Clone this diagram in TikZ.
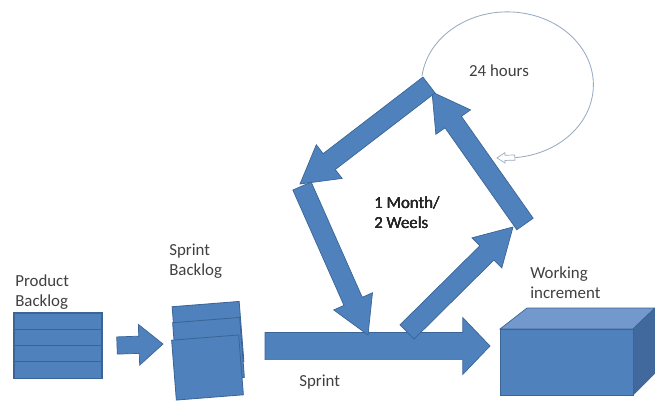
\documentclass[tikz,border=0pt]{standalone}
\usepackage{fontspec}
\setmainfont{Carlito}
\usetikzlibrary{calc}

\definecolor{scrumblue}{HTML}{4F81BD}
\definecolor{scrumline}{HTML}{3A6596}
\definecolor{scrumtop}{HTML}{7399CC}
\definecolor{scrumside}{HTML}{41699E}
\definecolor{loopline}{HTML}{9AAAC0}
\definecolor{textgrey}{HTML}{404040}

\tikzset{
	blockfill/.style={fill=scrumblue, draw=scrumline, line width=0.5pt},
	hollowtip/.style={fill=white, draw=loopline, line width=0.5pt},
	row/.style={rectangle, fill=scrumblue, draw=scrumline, line width=0.8pt,
		minimum width=2.2cm, minimum height=0.41cm, inner sep=0pt, outer sep=0pt},
	sheet/.style={rectangle, fill=scrumblue, draw=scrumline, line width=0.6pt,
		minimum width=1.68cm, minimum height=1.5cm, inner sep=0pt, rotate=4.5},
	lbl/.style={text=textgrey, font=\fontsize{12}{14.5}\selectfont, align=left,
		inner sep=0pt, anchor=west}
}

% block arrow: [style]{tail}{tip}{body width}{head width}{head length}
\newcommand{\blockarrow}[6][blockfill]{%
	\path ($(#3)!#6!(#2)$) coordinate (hb);
	\path[#1] ($(#2)!#4/2!90:(#3)$) -- ($(hb)!#4/2!90:(#3)$) -- ($(hb)!#5/2!90:(#3)$)
		-- (#3) -- ($(hb)!#5/2!-90:(#3)$) -- ($(hb)!#4/2!-90:(#3)$)
		-- ($(#2)!#4/2!-90:(#3)$) -- cycle;
}

\begin{document}
\begin{tikzpicture}[x=0.025cm, y=-0.025cm]
	\useasboundingbox (0,0) rectangle (655,400);

	% product backlog
	\node[lbl] (pbtext) at (15,292) {Product\\Backlog};
	\foreach \i in {0,...,3}
		\node[row] (pb\i) at (58,321.2+16.3*\i) {};

	% sprint backlog
	\node[lbl] (sbtext) at (169,261) {Sprint\\Backlog};
	\node[sheet] (sb1) at (208,334) {};
	\node[sheet] (sb2) at (208.5,350) {};
	\node[sheet] (sb3) at (207.5,367.5) {};

	\coordinate (pbTail) at (117,345.5);
	\coordinate (pbTip) at (163,344);
	\blockarrow{pbTail}{pbTip}{0.43cm}{1.02cm}{0.6cm}

	% sprint
	\coordinate (spTail) at (265,346);
	\coordinate (spTip) at (490,346);
	\blockarrow{spTail}{spTip}{0.68cm}{1.42cm}{0.68cm}
	\node[lbl] (sptext) at (299,382) {Sprint};

	% the loop
	\coordinate (upTail) at (407,332);
	\coordinate (upTip) at (513,227);
	\coordinate (backTail) at (525,224);
	\coordinate (backTip) at (432,92);
	\coordinate (leftTail) at (429,85);
	\coordinate (leftTip) at (300,184);
	\coordinate (downTail) at (302,186);
	\coordinate (downTip) at (368,335);
	\foreach \from/\to in {upTail/upTip, backTail/backTip, leftTail/leftTip, downTail/downTip}
		\blockarrow{\from}{\to}{0.5cm}{1.06cm}{0.92cm}
	\node[lbl, text=black!85] (looptext) at (374,213) {1 Month/\\2 Weels};

	% daily loop
	\coordinate (dayStart) at (422,76);
	\draw[loopline, line width=0.6pt] (dayStart)
		arc[start angle=187, end angle=445, x radius=86, y radius=73] coordinate (dayEnd);
	\coordinate (dayTip) at (497,158);
	\blockarrow[hollowtip]{dayEnd}{dayTip}{0.13cm}{0.26cm}{0.2cm}
	\node[lbl, anchor=center] (daytext) at (499,71) {24 hours};

	% working increment
	\node[lbl] (witext) at (530,283) {Working\\increment};
	\fill[scrumtop, draw=scrumline, line width=0.5pt] (500,329) -- (527,308) -- (655,308) -- (633,329) -- cycle;
	\fill[scrumside, draw=scrumline, line width=0.5pt] (633,329) -- (655,308) -- (655,373) -- (633,395) -- cycle;
	\fill[scrumblue, draw=scrumline, line width=0.5pt] (500,329) rectangle (633,395);
\end{tikzpicture}
\end{document}
